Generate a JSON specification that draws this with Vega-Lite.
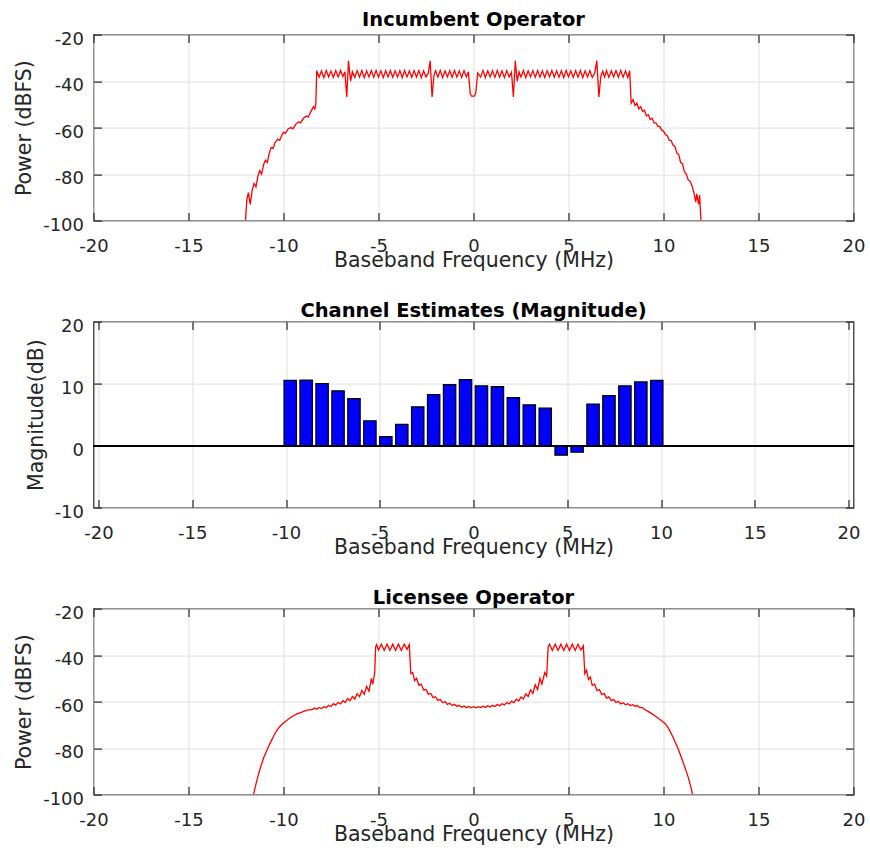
{
  "$schema": "https://vega.github.io/schema/vega-lite/v6.json",
  "padding": {"left": 13.5, "top": 8.6, "right": 5, "bottom": 5},
  "spacing": 27,
  "datasets": {
    "inc": [
      {"x":-12.0,"y":-100},{"x":-11.93,"y":-91},{"x":-11.85,"y":-88},{"x":-11.75,"y":-93},{"x":-11.65,"y":-87},{"x":-11.55,"y":-84},{"x":-11.45,"y":-85.5},{"x":-11.35,"y":-81},{"x":-11.25,"y":-78.5},{"x":-11.15,"y":-80},{"x":-11.05,"y":-76},{"x":-10.95,"y":-74},{"x":-10.85,"y":-75},{"x":-10.75,"y":-71},{"x":-10.65,"y":-68.5},{"x":-10.55,"y":-69},{"x":-10.45,"y":-66.5},{"x":-10.3,"y":-65},{"x":-10.2,"y":-65.5},{"x":-10.1,"y":-63.5},{"x":-10.0,"y":-62},{"x":-9.9,"y":-62.5},{"x":-9.75,"y":-60.5},{"x":-9.6,"y":-60},{"x":-9.5,"y":-60.5},{"x":-9.35,"y":-58.5},{"x":-9.2,"y":-57.5},{"x":-9.1,"y":-58},{"x":-8.95,"y":-56},{"x":-8.8,"y":-55},{"x":-8.7,"y":-55.5},{"x":-8.55,"y":-53},{"x":-8.42,"y":-51},{"x":-8.35,"y":-52},{"x":-8.3,"y":-50},
      {"x":-8.25,"y":-35.5},{"x":-8.125,"y":-38.3},{"x":-8.0,"y":-35.6},{"x":-7.875,"y":-38.5},{"x":-7.75,"y":-35.4},{"x":-7.625,"y":-38.2},{"x":-7.5,"y":-35.7},{"x":-7.375,"y":-38.4},{"x":-7.25,"y":-35.5},{"x":-7.125,"y":-38.2},{"x":-7.0,"y":-35.4},{"x":-6.875,"y":-38.0},{"x":-6.77,"y":-36.0},{"x":-6.67,"y":-46.8},{"x":-6.58,"y":-31.3},{"x":-6.47,"y":-40.0},{"x":-6.375,"y":-36.0},{"x":-6.25,"y":-38.4},{"x":-6.125,"y":-35.5},{"x":-6.0,"y":-38.3},{"x":-5.875,"y":-35.4},{"x":-5.75,"y":-38.5},{"x":-5.625,"y":-35.6},{"x":-5.5,"y":-38.2},{"x":-5.375,"y":-35.5},{"x":-5.25,"y":-38.4},{"x":-5.125,"y":-35.4},{"x":-5.0,"y":-38.3},{"x":-4.875,"y":-35.6},{"x":-4.75,"y":-38.5},{"x":-4.625,"y":-35.5},{"x":-4.5,"y":-38.2},{"x":-4.375,"y":-35.4},{"x":-4.25,"y":-38.4},{"x":-4.125,"y":-35.6},{"x":-4.0,"y":-38.3},{"x":-3.875,"y":-35.5},{"x":-3.75,"y":-38.5},{"x":-3.625,"y":-35.4},{"x":-3.5,"y":-38.2},{"x":-3.375,"y":-35.6},{"x":-3.25,"y":-38.4},{"x":-3.125,"y":-35.5},{"x":-3.0,"y":-38.3},{"x":-2.875,"y":-35.4},{"x":-2.75,"y":-38.5},{"x":-2.625,"y":-35.6},{"x":-2.5,"y":-38.2},{"x":-2.38,"y":-36.5},{"x":-2.28,"y":-31.3},{"x":-2.18,"y":-46.8},{"x":-2.08,"y":-37.5},{"x":-2.0,"y":-35.5},{"x":-1.875,"y":-38.3},{"x":-1.75,"y":-35.4},{"x":-1.625,"y":-38.5},{"x":-1.5,"y":-35.6},{"x":-1.375,"y":-38.2},{"x":-1.25,"y":-35.5},{"x":-1.125,"y":-38.4},{"x":-1.0,"y":-35.4},{"x":-0.875,"y":-38.3},{"x":-0.75,"y":-35.6},{"x":-0.625,"y":-38.5},{"x":-0.5,"y":-35.5},{"x":-0.375,"y":-38.2},{"x":-0.27,"y":-36.0},{"x":-0.17,"y":-45.5},{"x":-0.1,"y":-46.5},{"x":0.05,"y":-46.5},{"x":0.12,"y":-45.0},{"x":0.22,"y":-36.5},{"x":0.375,"y":-38.3},{"x":0.5,"y":-35.4},{"x":0.625,"y":-38.5},{"x":0.75,"y":-35.6},{"x":0.875,"y":-38.2},{"x":1.0,"y":-35.5},{"x":1.125,"y":-38.4},{"x":1.25,"y":-35.4},{"x":1.375,"y":-38.3},{"x":1.5,"y":-35.6},{"x":1.625,"y":-38.5},{"x":1.75,"y":-35.5},{"x":1.875,"y":-38.2},{"x":2.0,"y":-36.2},{"x":2.1,"y":-46.8},{"x":2.2,"y":-31.3},{"x":2.3,"y":-40.0},{"x":2.4,"y":-36.0},{"x":2.5,"y":-38.3},{"x":2.625,"y":-35.4},{"x":2.75,"y":-38.5},{"x":2.875,"y":-35.6},{"x":3.0,"y":-38.2},{"x":3.125,"y":-35.5},{"x":3.25,"y":-38.4},{"x":3.375,"y":-35.4},{"x":3.5,"y":-38.3},{"x":3.625,"y":-35.6},{"x":3.75,"y":-38.5},{"x":3.875,"y":-35.5},{"x":4.0,"y":-38.2},{"x":4.125,"y":-35.4},{"x":4.25,"y":-38.4},{"x":4.375,"y":-35.6},{"x":4.5,"y":-38.3},{"x":4.625,"y":-35.5},{"x":4.75,"y":-38.5},{"x":4.875,"y":-35.4},{"x":5.0,"y":-38.2},{"x":5.125,"y":-35.6},{"x":5.25,"y":-38.4},{"x":5.375,"y":-35.5},{"x":5.5,"y":-38.3},{"x":5.625,"y":-35.4},{"x":5.75,"y":-38.5},{"x":5.875,"y":-35.6},{"x":6.0,"y":-38.2},{"x":6.125,"y":-35.5},{"x":6.25,"y":-38.4},{"x":6.38,"y":-36.5},{"x":6.49,"y":-31.3},{"x":6.6,"y":-46.8},{"x":6.7,"y":-38.0},{"x":6.8,"y":-35.8},{"x":6.9,"y":-38.3},{"x":7.0,"y":-35.5},{"x":7.125,"y":-38.4},{"x":7.25,"y":-35.6},{"x":7.375,"y":-38.2},{"x":7.5,"y":-35.5},{"x":7.625,"y":-38.4},{"x":7.75,"y":-35.4},{"x":7.875,"y":-38.3},{"x":8.0,"y":-35.6},{"x":8.125,"y":-38.5},{"x":8.22,"y":-35.5},
      {"x":8.3,"y":-49.5},{"x":8.4,"y":-48},{"x":8.5,"y":-50.5},{"x":8.6,"y":-49.5},{"x":8.7,"y":-52},{"x":8.8,"y":-51},{"x":8.9,"y":-53},{"x":9.0,"y":-52.5},{"x":9.1,"y":-55},{"x":9.2,"y":-54.5},{"x":9.3,"y":-56.5},{"x":9.4,"y":-56},{"x":9.5,"y":-58},{"x":9.6,"y":-58},{"x":9.7,"y":-59.5},{"x":9.8,"y":-59.5},{"x":9.9,"y":-61},{"x":10.0,"y":-61.5},{"x":10.1,"y":-63},{"x":10.2,"y":-63.5},{"x":10.3,"y":-65.5},{"x":10.4,"y":-65.5},{"x":10.5,"y":-67.5},{"x":10.6,"y":-68},{"x":10.7,"y":-71},{"x":10.8,"y":-71.5},{"x":10.9,"y":-75},{"x":11.0,"y":-75.5},{"x":11.1,"y":-79},{"x":11.2,"y":-80},{"x":11.3,"y":-82.5},{"x":11.4,"y":-83},{"x":11.5,"y":-85},{"x":11.6,"y":-88},{"x":11.7,"y":-92},{"x":11.75,"y":-88.5},{"x":11.85,"y":-93},{"x":11.9,"y":-89},{"x":11.97,"y":-100}
    ],
    "lic": [
      {"x":-11.58,"y":-100},{"x":-11.45,"y":-95.5},{"x":-11.32,"y":-91.4},{"x":-11.18,"y":-87.5},{"x":-11.05,"y":-84.3},{"x":-10.9,"y":-81.5},{"x":-10.79,"y":-79.3},{"x":-10.65,"y":-77},{"x":-10.53,"y":-75},{"x":-10.4,"y":-73},{"x":-10.26,"y":-71.4},{"x":-10.13,"y":-70.2},{"x":-10.0,"y":-69.2},{"x":-9.85,"y":-68.2},{"x":-9.7,"y":-67.3},{"x":-9.5,"y":-66.2},{"x":-9.3,"y":-65.3},{"x":-9.1,"y":-64.7},{"x":-8.9,"y":-64.1},{"x":-8.7,"y":-63.6},{"x":-8.5,"y":-63.5},{"x":-8.375,"y":-62.8},{"x":-8.25,"y":-63.3},{"x":-8.125,"y":-62.5},{"x":-8.0,"y":-63.0},{"x":-7.875,"y":-62.2},{"x":-7.75,"y":-62.6},{"x":-7.625,"y":-61.6},{"x":-7.5,"y":-62.1},{"x":-7.375,"y":-60.9},{"x":-7.25,"y":-61.5},{"x":-7.125,"y":-60.3},{"x":-7.0,"y":-61.0},{"x":-6.875,"y":-59.6},{"x":-6.75,"y":-60.4},{"x":-6.625,"y":-58.7},{"x":-6.5,"y":-59.6},{"x":-6.375,"y":-57.8},{"x":-6.25,"y":-58.9},{"x":-6.125,"y":-56.6},{"x":-6.0,"y":-57.9},{"x":-5.875,"y":-55.2},{"x":-5.75,"y":-56.8},{"x":-5.625,"y":-53.5},{"x":-5.5,"y":-55.5},{"x":-5.375,"y":-50},{"x":-5.3,"y":-52.5},{"x":-5.2,"y":-47.5},{"x":-5.15,"y":-36.5},{"x":-5.1,"y":-35.5},{"x":-5.0,"y":-37.8},{"x":-4.85,"y":-35.3},{"x":-4.7,"y":-38},{"x":-4.55,"y":-35.3},{"x":-4.4,"y":-38},{"x":-4.25,"y":-35.3},{"x":-4.1,"y":-38},{"x":-3.95,"y":-35.3},{"x":-3.8,"y":-38},{"x":-3.65,"y":-35.3},{"x":-3.5,"y":-37.5},{"x":-3.38,"y":-35.5},{"x":-3.3,"y":-48},{"x":-3.2,"y":-47.5},{"x":-3.1,"y":-51},{"x":-3.0,"y":-50},{"x":-2.875,"y":-53},{"x":-2.75,"y":-52.5},{"x":-2.625,"y":-55},{"x":-2.5,"y":-54.8},{"x":-2.375,"y":-56.8},{"x":-2.25,"y":-56.5},{"x":-2.125,"y":-58.3},{"x":-2.0,"y":-57.9},{"x":-1.875,"y":-59.5},{"x":-1.75,"y":-59},{"x":-1.625,"y":-60.5},{"x":-1.5,"y":-60},{"x":-1.375,"y":-61.2},{"x":-1.25,"y":-60.7},{"x":-1.125,"y":-61.7},{"x":-1.0,"y":-61.2},{"x":-0.875,"y":-62.1},{"x":-0.75,"y":-61.6},{"x":-0.625,"y":-62.4},{"x":-0.5,"y":-61.9},{"x":-0.375,"y":-62.6},{"x":-0.25,"y":-62.1},{"x":-0.125,"y":-62.7},{"x":0,"y":-62.2},{"x":0.125,"y":-62.7},{"x":0.25,"y":-62.2},{"x":0.375,"y":-62.6},{"x":0.5,"y":-62},{"x":0.625,"y":-62.5},{"x":0.75,"y":-61.8},{"x":0.875,"y":-62.3},{"x":1.0,"y":-61.6},{"x":1.125,"y":-62.1},{"x":1.25,"y":-61.3},{"x":1.375,"y":-61.8},{"x":1.5,"y":-60.9},{"x":1.625,"y":-61.4},{"x":1.75,"y":-60.4},{"x":1.875,"y":-61},{"x":2.0,"y":-59.8},{"x":2.125,"y":-60.4},{"x":2.25,"y":-59},{"x":2.375,"y":-59.8},{"x":2.5,"y":-58},{"x":2.625,"y":-58.9},{"x":2.75,"y":-56.7},{"x":2.875,"y":-57.8},{"x":3.0,"y":-55},{"x":3.125,"y":-56.5},{"x":3.25,"y":-52.8},{"x":3.375,"y":-54.8},{"x":3.5,"y":-50},{"x":3.6,"y":-52.5},{"x":3.75,"y":-47.5},{"x":3.85,"y":-49},{"x":3.93,"y":-36.5},{"x":4.0,"y":-35.3},{"x":4.15,"y":-38},{"x":4.3,"y":-35.3},{"x":4.45,"y":-38},{"x":4.6,"y":-35.3},{"x":4.75,"y":-38},{"x":4.9,"y":-35.3},{"x":5.05,"y":-38},{"x":5.2,"y":-35.3},{"x":5.35,"y":-38},{"x":5.5,"y":-35.3},{"x":5.65,"y":-37.8},{"x":5.78,"y":-36},{"x":5.86,"y":-48},{"x":5.95,"y":-46.5},{"x":6.05,"y":-50.5},{"x":6.15,"y":-49.5},{"x":6.25,"y":-53},{"x":6.375,"y":-52.5},{"x":6.5,"y":-55.3},{"x":6.625,"y":-54.8},{"x":6.75,"y":-57},{"x":6.875,"y":-56.5},{"x":7.0,"y":-58.5},{"x":7.125,"y":-58},{"x":7.25,"y":-59.6},{"x":7.375,"y":-59.1},{"x":7.5,"y":-60.4},{"x":7.625,"y":-59.9},{"x":7.75,"y":-61},{"x":7.875,"y":-60.5},{"x":8.0,"y":-61.4},{"x":8.125,"y":-60.9},{"x":8.25,"y":-61.7},{"x":8.375,"y":-61.3},{"x":8.5,"y":-62},{"x":8.625,"y":-61.7},{"x":8.75,"y":-62.6},{"x":8.875,"y":-62.5},{"x":9.0,"y":-63.3},{"x":9.21,"y":-64.3},{"x":9.4,"y":-65.3},{"x":9.6,"y":-66.4},{"x":9.74,"y":-67.3},{"x":9.9,"y":-68.2},{"x":10.09,"y":-69.5},{"x":10.25,"y":-71.3},{"x":10.44,"y":-74.3},{"x":10.6,"y":-77.2},{"x":10.79,"y":-80.7},{"x":10.95,"y":-84.3},{"x":11.14,"y":-88.6},{"x":11.3,"y":-92.5},{"x":11.45,"y":-97},{"x":11.53,"y":-100}
    ],
    "bars": [
      {"x":-9.775,"mag":10.53},{"x":-8.925,"mag":10.55},{"x":-8.075,"mag":10.0},{"x":-7.225,"mag":8.82},{"x":-6.375,"mag":7.59},{"x":-5.525,"mag":4.01},{"x":-4.675,"mag":1.44},{"x":-3.825,"mag":3.42},{"x":-2.975,"mag":6.26},{"x":-2.125,"mag":8.24},{"x":-1.275,"mag":9.84},{"x":-0.425,"mag":10.64},{"x":0.425,"mag":9.63},{"x":1.275,"mag":9.52},{"x":2.125,"mag":7.75},{"x":2.975,"mag":6.58},{"x":3.825,"mag":6.04},{"x":4.675,"mag":-1.55},{"x":5.525,"mag":-1.07},{"x":6.375,"mag":6.68},{"x":7.225,"mag":8.07},{"x":8.075,"mag":9.63},{"x":8.925,"mag":10.27},{"x":9.775,"mag":10.53}
    ]
  },
  "vconcat": [
    {
      "width": 760, "height": 186,
      "title": {"text": "Incumbent Operator", "offset": 0},
      "data": {"name": "inc"},
      "layer": [
        {
          "mark": {"type": "line", "color": "#ff0000", "strokeWidth": 1.3, "clip": true},
          "encoding": {
            "x": {"field": "x", "type": "quantitative", "scale": {"domain": [-20, 20], "nice": false, "zero": false},
                  "axis": {"values": [-20,-15,-10,-5,0,5,10,15,20], "labelExpr": "replace(datum.label, '−', '-')", "title": "Baseband Frequency (MHz)", "titleX": 380, "titleY": 46, "titleBaseline": "alphabetic", "titleAlign": "center", "labelPadding": 25, "grid": true}},
            "y": {"field": "y", "type": "quantitative", "scale": {"domain": [-100, -20], "nice": false, "zero": false},
                  "axis": {"values": [-100,-80,-60,-40,-20], "labelExpr": "replace(datum.label, '−', '-')", "title": "Power (dBFS)", "titleX": -63.3, "titleY": 93, "titleAngle": 270, "titleBaseline": "alphabetic", "titleAlign": "center", "labelPadding": 18, "labelOffset": 4.5, "grid": true}}
          }
        },
        {
          "mark": {"type": "point", "opacity": 0},
          "encoding": {
            "x": {"field": "x", "type": "quantitative", "scale": {"domain": [-20, 20], "nice": false, "zero": false},
                  "axis": {"orient": "top", "values": [-20,-15,-10,-5,0,5,10,15,20], "labels": false, "title": null, "grid": false}},
            "y": {"field": "y", "type": "quantitative", "scale": {"domain": [-100, -20], "nice": false, "zero": false},
                  "axis": {"orient": "right", "values": [-100,-80,-60,-40,-20], "labels": false, "title": null, "grid": false}}
          }
        }
      ],
      "resolve": {"axis": {"x": "independent", "y": "independent"}}
    },
    {
      "width": 760, "height": 186,
      "title": {"text": "Channel Estimates (Magnitude)", "offset": -4.5},
      "data": {"name": "bars"},
      "layer": [
        {
          "mark": {"type": "bar", "width": 12.4, "fill": "#0000ff", "stroke": "#000000", "strokeWidth": 1.2},
          "encoding": {
            "x": {"field": "x", "type": "quantitative", "scale": {"domain": [-20, 20], "nice": false, "zero": false},
                  "axis": {"values": [-20,-15,-10,-5,0,5,10,15,20], "labelExpr": "replace(datum.label, '−', '-')", "title": "Baseband Frequency (MHz)", "titleX": 380, "titleY": 46, "titleBaseline": "alphabetic", "titleAlign": "center", "labelPadding": 25, "grid": true}},
            "y": {"field": "mag", "type": "quantitative", "scale": {"domain": [-10, 20], "nice": false},
                  "axis": {"values": [-10,0,10,20], "labelExpr": "replace(datum.label, '−', '-')", "title": "Magnitude(dB)", "titleX": -51, "titleY": 93, "titleAngle": 270, "titleBaseline": "alphabetic", "titleAlign": "center", "labelPadding": 18, "labelOffset": 4.5, "grid": true}}
          }
        },
        {
          "mark": {"type": "rule", "color": "#000000", "strokeWidth": 1.3},
          "encoding": {"y": {"datum": 0, "type": "quantitative", "axis": null}}
        },
        {
          "mark": {"type": "point", "opacity": 0},
          "encoding": {
            "x": {"field": "x", "type": "quantitative", "scale": {"domain": [-20, 20], "nice": false, "zero": false},
                  "axis": {"orient": "top", "values": [-20,-15,-10,-5,0,5,10,15,20], "labels": false, "title": null, "grid": false}},
            "y": {"field": "mag", "type": "quantitative", "scale": {"domain": [-10, 20], "nice": false},
                  "axis": {"orient": "right", "values": [-10,0,10,20], "labels": false, "title": null, "grid": false}}
          }
        }
      ],
      "resolve": {"axis": {"x": "independent", "y": "independent"}}
    },
    {
      "width": 760, "height": 186,
      "title": {"text": "Licensee Operator", "offset": -4.5},
      "data": {"name": "lic"},
      "layer": [
        {
          "mark": {"type": "line", "color": "#ff0000", "strokeWidth": 1.3, "clip": true},
          "encoding": {
            "x": {"field": "x", "type": "quantitative", "scale": {"domain": [-20, 20], "nice": false, "zero": false},
                  "axis": {"values": [-20,-15,-10,-5,0,5,10,15,20], "labelExpr": "replace(datum.label, '−', '-')", "title": "Baseband Frequency (MHz)", "titleX": 380, "titleY": 46, "titleBaseline": "alphabetic", "titleAlign": "center", "labelPadding": 25, "grid": true}},
            "y": {"field": "y", "type": "quantitative", "scale": {"domain": [-100, -20], "nice": false, "zero": false},
                  "axis": {"values": [-100,-80,-60,-40,-20], "labelExpr": "replace(datum.label, '−', '-')", "title": "Power (dBFS)", "titleX": -63.3, "titleY": 93, "titleAngle": 270, "titleBaseline": "alphabetic", "titleAlign": "center", "labelPadding": 18, "labelOffset": 4.5, "grid": true}}
          }
        },
        {
          "mark": {"type": "point", "opacity": 0},
          "encoding": {
            "x": {"field": "x", "type": "quantitative", "scale": {"domain": [-20, 20], "nice": false, "zero": false},
                  "axis": {"orient": "top", "values": [-20,-15,-10,-5,0,5,10,15,20], "labels": false, "title": null, "grid": false}},
            "y": {"field": "y", "type": "quantitative", "scale": {"domain": [-100, -20], "nice": false, "zero": false},
                  "axis": {"orient": "right", "values": [-100,-80,-60,-40,-20], "labels": false, "title": null, "grid": false}}
          }
        }
      ],
      "resolve": {"axis": {"x": "independent", "y": "independent"}}
    }
  ],
  "config": {
    "font": "DejaVu Sans",
    "background": "#ffffff",
    "view": {"stroke": "#262626", "strokeWidth": 1.2},
    "axis": {
      "domain": false, "tickSize": -8, "tickWidth": 1.2, "tickColor": "#262626", "minExtent": 0,
      "labelFont": "DejaVu Sans", "labelFontSize": 18, "labelColor": "#262626",
      "labelFlush": false, "labelOverlap": false, "labelBound": false,
      "titleFont": "DejaVu Sans", "titleFontSize": 20.5, "titleFontWeight": "normal", "titleColor": "#262626",
      "gridColor": "#e0e0e0", "gridWidth": 1, "gridOpacity": 1
    },
    "title": {"font": "DejaVu Sans", "fontSize": 19.5, "fontWeight": "bold", "color": "#000000", "baseline": "alphabetic", "anchor": "middle"}
  }
}
